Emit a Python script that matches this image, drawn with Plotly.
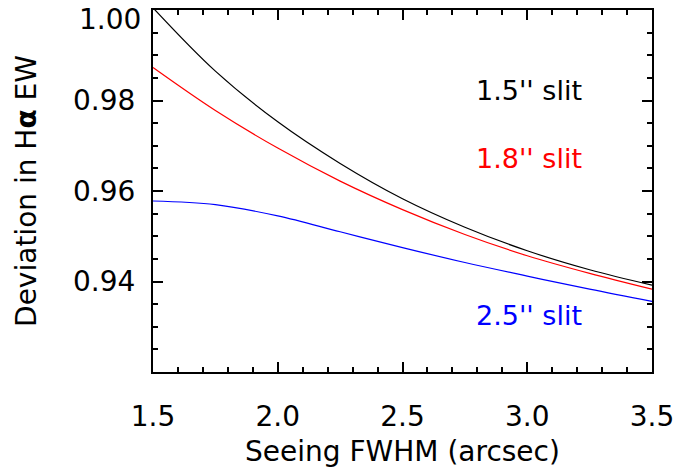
import plotly.graph_objects as go

seeing = [1.5, 1.75, 2.0, 2.25, 2.5, 2.75, 3.0, 3.25, 3.5]
dev_15 = [1.0005, 0.9865, 0.9753, 0.9661, 0.9583, 0.9520, 0.9468, 0.9426, 0.9392]
dev_18 = [0.9873, 0.9778, 0.9695, 0.9622, 0.9559, 0.9504, 0.9457, 0.9418, 0.9383]
dev_25 = [0.9578, 0.9570, 0.9545, 0.9510, 0.9475, 0.9442, 0.9412, 0.9383, 0.9356]
y_ticks = [0.94, 0.96, 0.98, 1.00]

series = [
    ("1.5'' slit", dev_15, "black", 0.9823),
    ("1.8'' slit", dev_18, "red", 0.9673),
    ("2.5'' slit", dev_25, "blue", 0.9324),
]

FONT = "DejaVu Sans"
fig = go.Figure()
for name, vals, col, ly in series:
    fig.add_trace(go.Scatter(x=seeing, y=vals, mode="lines", name=name,
                             line=dict(color=col, width=1.2, shape="spline"),
                             showlegend=False))
    fig.add_annotation(x=3.227, y=ly, xref="x", yref="y", text=name,
                       showarrow=False, xanchor="right", yanchor="middle",
                       font=dict(family=FONT, size=27, color=col))

# top tick label drawn slightly lower so it is not cut off (as in the reference)
top_tick = y_ticks[-1]
fig.add_annotation(x=0, y=top_tick, xref="paper", yref="y", text="%.2f" % top_tick,
                   showarrow=False, xanchor="right", yanchor="middle", xshift=-10, yshift=-9,
                   font=dict(family=FONT, size=28, color="black"))

axis_common = dict(showgrid=False, zeroline=False, showline=True, linecolor="black",
                   linewidth=2, mirror="ticks", ticks="inside", tickcolor="black",
                   tickwidth=1.5, ticklen=10, automargin=False,
                   tickfont=dict(family=FONT, size=28, color="black"),
                   minor=dict(ticks="inside", ticklen=5, tickwidth=1.5, tickcolor="black"))

fig.update_xaxes(range=[1.5, 3.5], dtick=0.5, tick0=1.5, tickformat=".1f",
                 title=dict(text="Seeing FWHM (arcsec)", font=dict(family=FONT, size=28, color="black"), standoff=10),
                 ticklabelstandoff=18, **axis_common)
fig.update_xaxes(minor_dtick=0.1)
fig.update_yaxes(range=[0.92, 1.00002],
                 tickvals=y_ticks, ticktext=["%.2f" % v for v in y_ticks[:-1]] + [""],
                 title=dict(text="Deviation in H<b>α</b> EW", font=dict(family=FONT, size=28, color="black"), standoff=28),
                 ticklabelstandoff=10, **axis_common)
fig.update_yaxes(minor_dtick=0.005, minor_tick0=0.92)

fig.update_layout(width=697, height=470, margin=dict(l=153, r=45, t=10, b=98),
                  plot_bgcolor="white", paper_bgcolor="white")
fig.write_html("out.html")
